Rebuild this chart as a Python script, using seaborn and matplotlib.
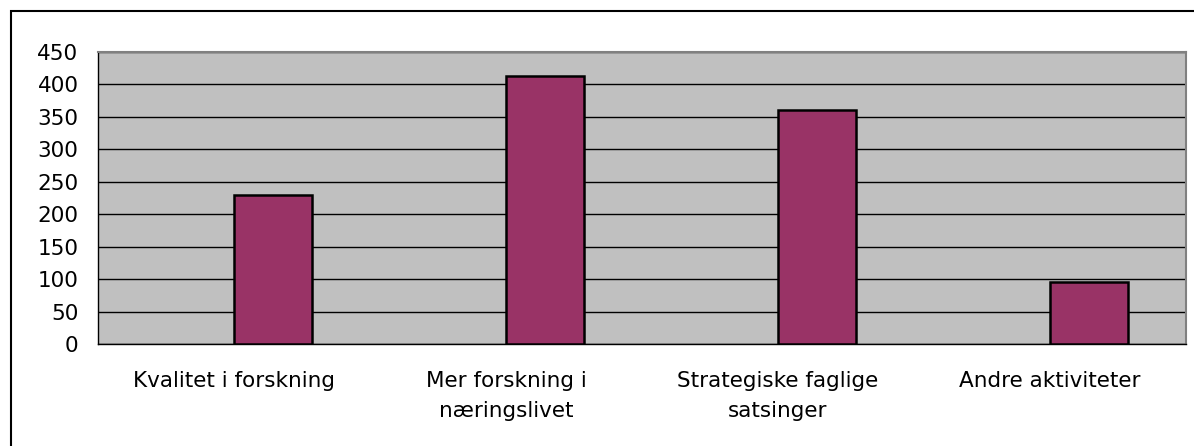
import matplotlib
matplotlib.use("Agg")
import matplotlib.pyplot as plt
import seaborn as sns
import pandas as pd
from matplotlib.patches import Rectangle

categories = ["Kvalitet i forskning", "Mer forskning i\nnæringslivet",
              "Strategiske faglige\nsatsinger", "Andre aktiviteter"]
values = [230, 413, 360, 96]
series_order = ["tom", "verdi"]   # first series is empty in the original chart
y_ticks = [0, 50, 100, 150, 200, 250, 300, 350, 400, 450]

df = pd.DataFrame({"kategori": categories, "verdi": values,
                   "serie": ["verdi"] * len(categories)})

sns.set_style("white")
plt.rcParams["font.family"] = ["DejaVu Sans"]
plt.rcParams["text.color"] = "black"
plt.rcParams["xtick.color"] = "black"
plt.rcParams["ytick.color"] = "black"
plt.rcParams["xtick.labelcolor"] = "black"
plt.rcParams["ytick.labelcolor"] = "black"

fig = plt.figure(figsize=(11.94, 4.46), dpi=100)
ax = fig.add_axes([98 / 1194, 1 - 344 / 446, (1186 - 98) / 1194, (344 - 52) / 446])

sns.barplot(data=df, x="kategori", y="verdi", hue="serie", hue_order=series_order,
            order=categories, palette={"tom": "#993366", "verdi": "#993366"},
            saturation=1, width=0.574, dodge=True, edgecolor="black", linewidth=1.8,
            ax=ax, legend=False, zorder=3)

ax.set_facecolor("#C0C0C0")
ax.set_ylim(0, 450)
ax.set_xlim(-0.5, len(categories) - 0.5)
ax.set_yticks(y_ticks)
ax.set_yticklabels([str(v) for v in y_ticks])
ax.yaxis.grid(True, color="black", linewidth=1.0, zorder=1)
ax.set_axisbelow(True)
ax.set_xlabel("")
ax.set_ylabel("")

# category ticks at boundaries, labels at centres
ax.set_xticks([i - 0.5 for i in range(len(categories) + 1)], minor=False)
ax.set_xticklabels([])
ax.set_xticks(range(len(categories)), minor=True)
ax.set_xticklabels(categories, minor=True, fontsize=15.5, linespacing=1.65,
                   color="black")
ax.tick_params(axis="x", which="major", length=5, width=1, color="black", direction="out")
ax.tick_params(axis="x", which="minor", length=0, pad=19.5)
ax.tick_params(axis="y", length=5, width=1, color="black", direction="out",
               labelsize=15.5, labelcolor="black", pad=9)

for side in ["left", "bottom"]:
    ax.spines[side].set_color("black")
    ax.spines[side].set_linewidth(1.0)
for side in ["top", "right"]:
    ax.spines[side].set_visible(True)
    ax.spines[side].set_color("#808080")
    ax.spines[side].set_linewidth(1.5)

# outer chart border
fig.patches.append(Rectangle((11 / 1194, -0.05), 1.2, 1 - 11 / 446 + 0.05,
                             transform=fig.transFigure, fill=False,
                             edgecolor="black", linewidth=1.5))

fig.savefig("out.png", dpi=100)
